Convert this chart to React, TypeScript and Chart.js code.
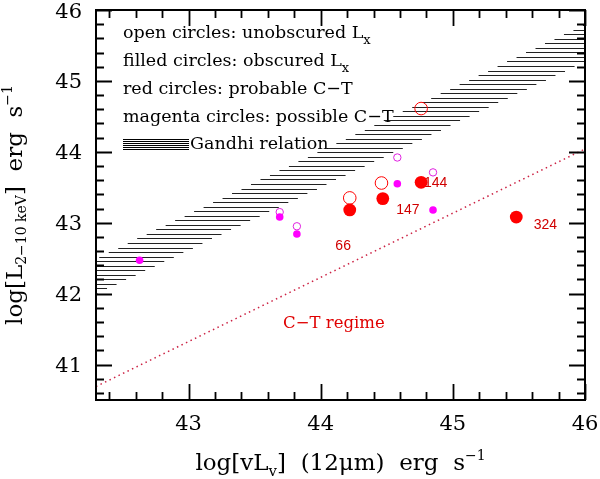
import { useEffect, useRef } from 'react';
import { Chart, registerables } from 'chart.js';

Chart.register(...registerables);

// axis ranges and labelled ticks
const X_MIN = 42.3;
const X_MAX = 46;
const Y_MIN = 40.5;
const Y_MAX = 46;
const xTickLabels = [43, 44, 45, 46];
const yTickLabels = [41, 42, 43, 44, 45, 46];

// filled circles: obscured Lx
const redFilledX = [44.22, 44.47, 44.76, 45.48];
const redFilledY = [43.18, 43.34, 43.57, 43.08];
const magentaFilledX = [42.63, 43.69, 43.82, 44.58, 44.85];
const magentaFilledY = [42.47, 43.08, 42.84, 43.55, 43.18];

// open circles: unobscured Lx
const redOpenX = [44.22, 44.46, 44.76];
const redOpenY = [43.35, 43.56, 44.61];
const magentaOpenX = [43.69, 43.82, 44.58, 44.85];
const magentaOpenY = [43.15, 42.95, 43.92, 43.71];

// Gandhi relation band: edges at the two ends of the x range
const gandhiX = [42.3, 46];
const gandhiUpperY = [42.5, 45.8];
const gandhiLowerY = [42.0, 45.28];

// dotted Compton-thick boundary
const ctLineX = [42.3, 46];
const ctLineY = [40.69, 44.04];

// source ids written next to points
const sourceNames = ['66', '147', '144', '324'];
const sourceNameX = [44.17, 44.66, 44.87, 45.7];
const sourceNameY = [42.67, 43.18, 43.56, 42.97];

const SERIF = '"DejaVu Serif", serif';
const SANS = '"Liberation Sans", Arial, sans-serif';

type Seg = { t: string; size: number; dy?: number };

function drawRich(ctx: CanvasRenderingContext2D, segs: Seg[], x: number, y: number, center: boolean, family: string) {
    let total = 0;
    for (const s of segs) {
        ctx.font = `${s.size}px ${family}`;
        total += ctx.measureText(s.t).width;
    }
    let cx = center ? x - total / 2 : x;
    ctx.textAlign = 'left';
    ctx.textBaseline = 'alphabetic';
    for (const s of segs) {
        ctx.font = `${s.size}px ${family}`;
        ctx.fillText(s.t, cx, y + (s.dy || 0));
        cx += ctx.measureText(s.t).width;
    }
}

const legendLines: Seg[][] = [
    [{ t: 'open circles: unobscured L', size: 17.5 }, { t: 'x', size: 13, dy: 6 }],
    [{ t: 'filled circles: obscured L', size: 17.5 }, { t: 'x', size: 13, dy: 6 }],
    [{ t: 'red circles: probable C\u2212T', size: 17.5 }],
    [{ t: 'magenta circles: possible C\u2212T', size: 17.5 }],
];

const decorPlugin = {
    id: 'decor',
    beforeDatasetsDraw(chart: any) {
        const { ctx, chartArea: a } = chart;
        const xs = chart.scales.x;
        const ys = chart.scales.y;
        const up = (gandhiUpperY[1] - gandhiUpperY[0]) / (gandhiX[1] - gandhiX[0]);
        const lo = (gandhiLowerY[1] - gandhiLowerY[0]) / (gandhiX[1] - gandhiX[0]);
        ctx.save();
        ctx.beginPath();
        ctx.rect(a.left, a.top, a.right - a.left, a.bottom - a.top);
        ctx.clip();
        ctx.strokeStyle = '#222';
        ctx.lineWidth = 1;
        ctx.beginPath();
        // horizontal hatching between the two band edges
        for (let v = gandhiLowerY[0] + 0.01; v <= gandhiUpperY[1]; v += 0.064) {
            const xl = Math.max(X_MIN, gandhiX[0] + (v - gandhiUpperY[0]) / up);
            const xr = Math.min(X_MAX, gandhiX[0] + (v - gandhiLowerY[0]) / lo);
            if (xr <= xl) continue;
            const py = Math.round(ys.getPixelForValue(v)) + 0.5;
            ctx.moveTo(xs.getPixelForValue(xl), py);
            ctx.lineTo(xs.getPixelForValue(xr), py);
        }
        ctx.stroke();
        ctx.restore();

        // source ids (the points are drawn over them)
        ctx.save();
        ctx.fillStyle = '#d00000';
        ctx.font = `14px ${SANS}`;
        ctx.textAlign = 'center';
        ctx.textBaseline = 'middle';
        sourceNames.forEach((n, i) => ctx.fillText(n, xs.getPixelForValue(sourceNameX[i]), ys.getPixelForValue(sourceNameY[i])));
        ctx.restore();
    },
    afterDatasetsDraw(chart: any) {
        const { ctx, chartArea: a } = chart;
        const xs = chart.scales.x;
        const ys = chart.scales.y;
        ctx.save();
        ctx.fillStyle = '#000';
        ctx.strokeStyle = '#000';

        // frame
        ctx.lineWidth = 2;
        ctx.strokeRect(a.left, a.top, a.right - a.left, a.bottom - a.top);

        // inward ticks on all four sides
        ctx.lineWidth = 1.8;
        ctx.beginPath();
        for (let i = Math.ceil(X_MIN * 5); i <= X_MAX * 5; i++) {
            const major = i % 5 === 0;
            const len = major ? 16 : 8;
            const px = Math.round(xs.getPixelForValue(i / 5)) + 0.5;
            ctx.moveTo(px, a.bottom); ctx.lineTo(px, a.bottom - len);
            ctx.moveTo(px, a.top); ctx.lineTo(px, a.top + len);
        }
        for (let i = Math.ceil(Y_MIN * 5); i <= Y_MAX * 5; i++) {
            const major = i % 5 === 0;
            const len = major ? 16 : 8;
            const py = Math.round(ys.getPixelForValue(i / 5)) + 0.5;
            ctx.moveTo(a.left, py); ctx.lineTo(a.left + len, py);
            ctx.moveTo(a.right, py); ctx.lineTo(a.right - len, py);
        }
        ctx.stroke();

        // tick labels
        ctx.font = `21px ${SERIF}`;
        ctx.textBaseline = 'alphabetic';
        ctx.textAlign = 'center';
        for (const v of xTickLabels) ctx.fillText(String(v), xs.getPixelForValue(v), a.bottom + 30);
        ctx.textAlign = 'right';
        for (const v of yTickLabels) ctx.fillText(String(v), a.left - 14, ys.getPixelForValue(v) + 7.5);

        // axis titles
        const midX = (a.left + a.right) / 2;
        drawRich(ctx, [
            { t: 'log[vL', size: 23 },
            { t: 'v', size: 15, dy: 6 },
            { t: ']  (12\u03bcm)  erg  s', size: 23 },
            { t: '\u22121', size: 14, dy: -10 },
        ], midX, a.bottom + 70, true, SERIF);

        ctx.save();
        ctx.translate(22, (a.top + a.bottom) / 2);
        ctx.rotate(-Math.PI / 2);
        drawRich(ctx, [
            { t: 'log[L', size: 23 },
            { t: '2\u221210 keV', size: 14, dy: 4 },
            { t: ']  erg  s', size: 23 },
            { t: '\u22121', size: 14, dy: -10 },
        ], 0, 0, true, SERIF);
        ctx.restore();

        // legend block
        const lx = a.left + 27;
        legendLines.forEach((segs, i) => drawRich(ctx, segs, lx, a.top + 27.5 + i * 28.3, false, SERIF));
        ctx.lineWidth = 1.2;
        ctx.beginPath();
        for (let k = 0; k < 6; k++) {
            const py = a.top + 129.5 + k * 2;
            ctx.moveTo(lx, py); ctx.lineTo(lx + 66, py);
        }
        ctx.stroke();
        drawRich(ctx, [{ t: 'Gandhi relation', size: 17.5 }], lx + 67, a.top + 139, false, SERIF);

        // C-T regime annotation
        ctx.fillStyle = '#e00000';
        ctx.font = `16.5px ${SERIF}`;
        ctx.textAlign = 'center';
        ctx.textBaseline = 'middle';
        ctx.fillText('C\u2212T regime', xs.getPixelForValue(44.1), ys.getPixelForValue(41.57));
        ctx.restore();
    },
};

const pts = (xs: number[], ys: number[]) => xs.map((x, i) => ({ x, y: ys[i] }));

function ChartComponent() {
    const canvasRef = useRef<HTMLCanvasElement>(null);
    const chartRef = useRef<Chart | null>(null);

    useEffect(() => {
        if (!canvasRef.current) return;
        if (chartRef.current) chartRef.current.destroy();

        chartRef.current = new Chart(canvasRef.current, {
            type: 'scatter',
            data: {
                datasets: [
                    { data: pts(redFilledX, redFilledY), pointRadius: 6.4, backgroundColor: '#ff0000', borderColor: '#ff0000', borderWidth: 0 },
                    { data: pts(magentaFilledX, magentaFilledY), pointRadius: 3.8, backgroundColor: '#ff00ff', borderColor: '#ff00ff', borderWidth: 0 },
                    { data: pts(redOpenX, redOpenY), pointRadius: 6.3, backgroundColor: 'rgba(0,0,0,0)', borderColor: '#ff0000', borderWidth: 1 },
                    { data: pts(magentaOpenX, magentaOpenY), pointRadius: 3.7, backgroundColor: 'rgba(0,0,0,0)', borderColor: '#e020e0', borderWidth: 1 },
                    {
                        type: 'line',
                        data: pts(ctLineX, ctLineY),
                        showLine: true,
                        pointRadius: 0,
                        borderColor: '#cc2244',
                        borderWidth: 1.5,
                        borderDash: [1.5, 3.5],
                        fill: false,
                    } as any,
                ],
            },
            options: {
                animation: false,
                responsive: true,
                maintainAspectRatio: false,
                layout: { padding: { left: 96, top: 10, right: 15, bottom: 79 } },
                scales: {
                    x: { type: 'linear', min: X_MIN, max: X_MAX, display: false },
                    y: { type: 'linear', min: Y_MIN, max: Y_MAX, display: false },
                },
                plugins: {
                    legend: { display: false },
                    tooltip: { enabled: false },
                },
            },
            plugins: [decorPlugin],
        });

        return () => {
            if (chartRef.current) {
                chartRef.current.destroy();
                chartRef.current = null;
            }
        };
    }, []);

    return <canvas ref={canvasRef} />;
}

export default function App() {
    return (
        <div style={{ position: 'fixed', left: 0, top: 0, width: 600, height: 479, background: '#fff' }}>
            <ChartComponent />
        </div>
    );
}
